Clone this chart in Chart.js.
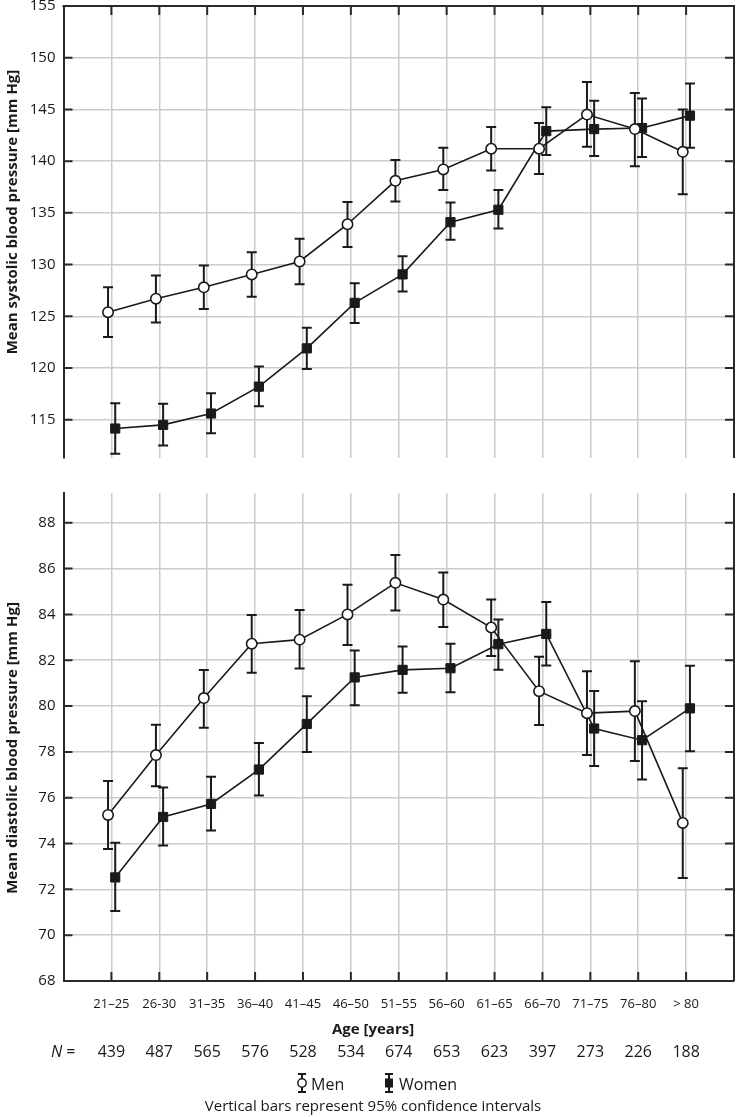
<!DOCTYPE html>
<html><head><meta charset="utf-8">
<script src="https://cdn.jsdelivr.net/npm/chart.js@4.4.1/dist/chart.umd.min.js"></script>
<style>
html,body{margin:0;padding:0;background:#fff;}
#wrap{position:relative;width:746px;height:1117px;overflow:hidden;background:#fff;}
#c1{position:absolute;left:0;top:-11px;}
#c2{position:absolute;left:0;top:470px;}
</style></head><body>
<div id="wrap">
<canvas id="c1" width="746" height="486"></canvas>
<canvas id="c2" width="746" height="647"></canvas>
</div>
<script>
// ---------- data ----------
const categories = ['21–25','26-30','31–35','36–40','41–45','46–50','51–55','56–60','61–65','66–70','71–75','76–80','> 80'];
const nCounts = [439,487,565,576,528,534,674,653,623,397,273,226,188];

const sysTicks = [115,120,125,130,135,140,145,150,155];
const diaTicks = [68,70,72,74,76,78,80,82,84,86,88];

const sysMen     = [125.4,126.7,127.8,129.05,130.3,133.9,138.1,139.2,141.2,141.2,144.5,143.1,140.9];
const sysMenLo   = [123.0,124.4,125.7,126.9,128.1,131.7,136.1,137.2,139.1,138.75,141.4,139.5,136.8];
const sysMenHi   = [127.8,128.95,129.9,131.2,132.5,136.05,140.1,141.3,143.3,143.7,147.65,146.6,145.0];
const sysWomen   = [114.15,114.5,115.6,118.2,121.9,126.3,129.05,134.1,135.3,142.9,143.1,143.2,144.4];
const sysWomenLo = [111.7,112.5,113.7,116.3,119.9,124.35,127.4,132.4,133.5,140.6,140.5,140.4,141.3];
const sysWomenHi = [116.6,116.55,117.55,120.15,123.9,128.2,130.8,136.0,137.2,145.2,145.85,146.05,147.5];

const diaMen     = [75.25,77.86,80.35,82.72,82.9,84.0,85.38,84.65,83.43,80.65,79.69,79.78,74.9];
const diaMenLo   = [73.76,76.5,79.05,81.45,81.64,82.67,84.17,83.45,82.19,79.17,77.86,77.6,72.5];
const diaMenHi   = [76.73,79.18,81.57,83.98,84.19,85.29,86.59,85.83,84.65,82.15,81.52,81.96,77.29];
const diaWomen   = [72.52,75.16,75.73,77.23,79.22,81.25,81.58,81.65,82.7,83.15,79.02,78.51,79.9];
const diaWomenLo = [71.05,73.91,74.57,76.1,78.0,80.04,80.58,80.6,81.58,81.77,77.38,76.8,78.03];
const diaWomenHi = [74.03,76.45,76.91,78.39,80.43,82.43,82.6,82.72,83.78,84.54,80.66,80.21,81.76];

// ---------- styling ----------
const FONT = "'Open Sans','Noto Sans',sans-serif";
const INK = '#1a1a1a';
const GRID = '#cbcbcb';
const AXIS = '#2a2a2a';
const MEN_SHIFT = -0.07, WOMEN_SHIFT = 0.08;

function pts(vals, shift){ return vals.map((v,i)=>({x:i+1+shift, y:v})); }

function makeChart(canvas, cfg){
  const errPlugin = {
    id:'errbars',
    beforeDatasetsDraw(chart){
      const ctx = chart.ctx, xs = chart.scales.x, ys = chart.scales.y;
      ctx.save();
      ctx.strokeStyle = INK; ctx.lineWidth = 2;
      cfg.err.forEach(e=>{
        e.lo.forEach((lo,i)=>{
          const x = xs.getPixelForValue(i+1+e.shift);
          const y1 = ys.getPixelForValue(lo), y2 = ys.getPixelForValue(e.hi[i]);
          ctx.beginPath();
          ctx.moveTo(x,y1); ctx.lineTo(x,y2);
          ctx.moveTo(x-5,y1); ctx.lineTo(x+5,y1);
          ctx.moveTo(x-5,y2); ctx.lineTo(x+5,y2);
          ctx.stroke();
        });
      });
      ctx.restore();
    }
  };
  const framePlugin = {
    id:'frame',
    afterDraw(chart){
      const ctx = chart.ctx, xs = chart.scales.x, ys = chart.scales.y;
      const {left,right,top,bottom} = chart.chartArea;
      ctx.save();
      ctx.strokeStyle = AXIS; ctx.lineWidth = 2;
      ctx.beginPath();
      ctx.moveTo(right, top); ctx.lineTo(right, bottom);
      if (cfg.isTop){ ctx.moveTo(left-1, top); ctx.lineTo(right+1, top); }
      cfg.yTicks.forEach(v=>{
        const y = ys.getPixelForValue(v);
        ctx.moveTo(left, y); ctx.lineTo(left+9, y);
        ctx.moveTo(right-9, y); ctx.lineTo(right, y);
      });
      categories.forEach((c,i)=>{
        const x = xs.getPixelForValue(i+1);
        if (cfg.isTop){ ctx.moveTo(x, top); ctx.lineTo(x, top+9); }
        else { ctx.moveTo(x, bottom); ctx.lineTo(x, bottom-9); }
      });
      ctx.stroke();
      // y title
      ctx.fillStyle = INK;
      ctx.save();
      ctx.translate(13, cfg.titleY);
      ctx.rotate(-Math.PI/2);
      ctx.font = "bold 15px " + FONT;
      ctx.textAlign = 'center'; ctx.textBaseline = 'middle';
      ctx.fillText(cfg.yTitle, 0, 0);
      ctx.restore();
      if (!cfg.isTop){
        const cx = 373;
        ctx.textAlign = 'center'; ctx.textBaseline = 'middle';
        ctx.font = "bold 15px " + FONT;
        ctx.fillText('Age [years]', cx, bottom + 49);
        // N row
        ctx.font = "16px " + FONT;
        nCounts.forEach((n,i)=>{
          ctx.fillText(String(n), xs.getPixelForValue(i+1), bottom + 71);
        });
        ctx.textAlign = 'left';
        ctx.font = "italic 16px " + FONT;
        ctx.fillText('N', 51, bottom + 71);
        ctx.font = "16px " + FONT;
        ctx.fillText(' =', 62, bottom + 71);
        // legend
        const ly = bottom + 102;
        const drawKey = (x, square)=>{
          ctx.strokeStyle = INK; ctx.lineWidth = 2;
          ctx.beginPath();
          ctx.moveTo(x, ly-9); ctx.lineTo(x, ly+9);
          ctx.moveTo(x-4, ly-9); ctx.lineTo(x+4, ly-9);
          ctx.moveTo(x-4, ly+9); ctx.lineTo(x+4, ly+9);
          ctx.stroke();
          ctx.lineWidth = 1.5;
          if (square){ ctx.fillStyle = INK; ctx.fillRect(x-4, ly-4.5, 8, 9); }
          else { ctx.beginPath(); ctx.arc(x, ly, 4.2, 0, Math.PI*2); ctx.fillStyle='#fff'; ctx.fill(); ctx.stroke(); }
        };
        drawKey(302, false);
        drawKey(389, true);
        ctx.fillStyle = INK;
        ctx.font = "16px " + FONT;
        ctx.textAlign = 'left';
        ctx.fillText('Men', 311, ly+2);
        ctx.fillText('Women', 399, ly+2);
        ctx.textAlign = 'center';
        ctx.font = "15px " + FONT;
        ctx.fillText('Vertical bars represent 95% confidence intervals', cx, bottom + 126);
      }
      ctx.restore();
    }
  };
  return new Chart(canvas, {
    type:'line',
    data:{ datasets:[
      { label:'Men', data:pts(cfg.men, MEN_SHIFT), borderColor:INK, borderWidth:1.6,
        pointStyle:'circle', pointRadius:5.2, pointBackgroundColor:'#fff', pointBorderColor:INK, pointBorderWidth:1.6, tension:0 },
      { label:'Women', data:pts(cfg.women, WOMEN_SHIFT), borderColor:INK, borderWidth:1.6,
        pointStyle:'rect', pointRadius:6.5, pointBackgroundColor:INK, pointBorderColor:INK, pointBorderWidth:1, tension:0 }
    ]},
    options:{
      responsive:false, animation:false, devicePixelRatio:1,
      layout:{ padding:{ left:0, right:12, top:cfg.padTop, bottom:cfg.padBottom } },
      plugins:{ legend:{display:false}, tooltip:{enabled:false} },
      scales:{
        x:{ type:'linear', min:0, max:14,
            afterBuildTicks:s=>{ s.ticks = categories.map((c,i)=>({value:i+1})); },
            ticks:{ display:!cfg.isTop, autoSkip:false, maxRotation:0, padding:15, color:INK,
                    font:{family:FONT, size:13}, callback:(v)=>categories[v-1] ?? '' },
            grid:{ color:GRID, lineWidth:1.5, drawTicks:false },
            border:{ display:!cfg.isTop, color:AXIS, width:2 },
            afterFit:s=>{ s.height = cfg.xHeight; } },
        y:{ min:cfg.min, max:cfg.max,
            afterBuildTicks:s=>{ s.ticks = cfg.yTicks.map(v=>({value:v})); },
            ticks:{ padding:8, color:INK, font:{family:FONT, size:15} },
            grid:{ color:GRID, lineWidth:1.5, drawTicks:false },
            border:{ display:true, color:AXIS, width:2 },
            afterFit:s=>{ s.width = 63.5; } }
      }
    },
    plugins:[errPlugin, framePlugin]
  });
}

makeChart(document.getElementById('c1'), {
  isTop:true, min:111.3, max:155, yTicks:sysTicks,
  men:sysMen, women:sysWomen,
  err:[{lo:sysMenLo, hi:sysMenHi, shift:MEN_SHIFT},{lo:sysWomenLo, hi:sysWomenHi, shift:WOMEN_SHIFT}],
  yTitle:'Mean systolic blood pressure [mm Hg]', titleY:223,
  padTop:0, padBottom:9, xHeight:0
});
makeChart(document.getElementById('c2'), {
  isTop:false, min:68, max:89.3, yTicks:diaTicks,
  men:diaMen, women:diaWomen,
  err:[{lo:diaMenLo, hi:diaMenHi, shift:MEN_SHIFT},{lo:diaWomenLo, hi:diaWomenHi, shift:WOMEN_SHIFT}],
  yTitle:'Mean diastolic blood pressure [mm Hg]', titleY:278,
  padTop:23, padBottom:0, xHeight:136
});
</script>
</body></html>
